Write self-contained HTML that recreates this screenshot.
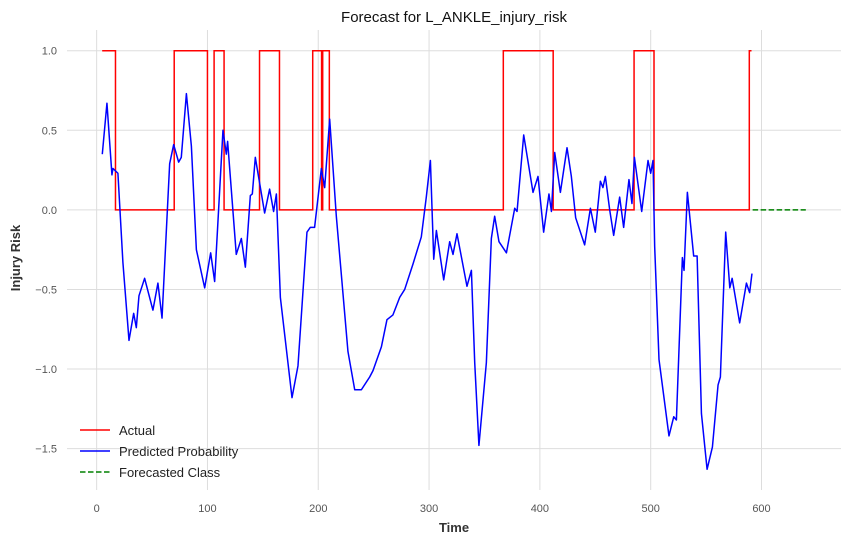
<!DOCTYPE html>
<html><head><meta charset="utf-8">
<style>
body{margin:0;background:#fff;}
svg{display:block;font-family:"Liberation Sans","DejaVu Sans",sans-serif;}
</style></head>
<body>
<svg id="chart" width="852" height="544" viewBox="0 0 852 544" xmlns="http://www.w3.org/2000/svg">
<text x="454" y="22" text-anchor="middle" font-size="15" fill="#111">Forecast for L_ANKLE_injury_risk</text>
<g id="grid"></g>
<g id="xticks"></g>
<g id="yticks"></g>
<g id="series"></g>
<text x="454" y="532" text-anchor="middle" font-size="13" font-weight="bold" fill="#333">Time</text>
<text transform="translate(20,258) rotate(-90)" text-anchor="middle" font-size="13" font-weight="bold" fill="#333">Injury Risk</text>
<g>
  <g><line x1="80" y1="430" x2="110" y2="430" stroke="#ff0000" stroke-width="1.5"/><text x="119" y="435" font-size="13" fill="#222">Actual</text></g>
  <g><line x1="80" y1="451" x2="110" y2="451" stroke="#0000ff" stroke-width="1.5"/><text x="119" y="456" font-size="13" fill="#222">Predicted Probability</text></g>
  <g><line x1="80" y1="472" x2="110" y2="472" stroke="#008000" stroke-width="1.5" stroke-dasharray="5.5,2.5"/><text x="119" y="477" font-size="13" fill="#222">Forecasted Class</text></g>
</g>
</svg>
<script>
const xTicks=[0,100,200,300,400,500,600];
const yTicks=[1.0,0.5,0.0,-0.5,-1.0,-1.5];
const yTickLabels=["1.0","0.5","0.0","\u22120.5","\u22121.0","\u22121.5"];
const actualTimes=[5,17,70,100,106,115,147,165,195,203,204,205,210,367,412,485,503,589,590,591];
const actualValues=[1,0,1,0,1,0,1,0,1,0,1,1,0,1,0,1,0,1,1,1];
const predTimes=[5.1,9.3,13.8,14.7,19.2,23.7,29.2,33.4,35.8,38.2,43.3,50.8,55.3,59,65.9,69.5,74,76.4,81,85.5,90,97.5,102.9,106.5,114,117,118.2,126,130.6,134.2,138.7,140.5,143.2,151.6,156.1,159.7,162.2,165.8,176.3,181.7,189.8,192.8,196.7,202.8,205.8,210.3,216.3,226.8,232.9,238.9,246.4,249.4,257,262,267.4,273.5,278,285.5,293,297.5,301.2,304.2,306.6,313.2,318.6,321.6,325.2,334.2,338.2,341.2,345,351.7,356.2,359.2,363.1,369.8,377.3,379.4,385.4,393.8,398.3,403.4,408.2,410.4,413.4,418.5,424.5,428.4,432.3,440.4,445.6,450,454.6,456.9,459.1,463,466.6,472,475.6,480.4,483.1,485.3,491.9,497.6,500,502.1,503.6,507.5,516.5,520.8,523.2,528.6,530.1,533.1,538.8,541.9,545.8,550.9,555.7,560.8,562.9,567.7,571.4,573.5,580.3,586.4,589.3,591.4];
const predValues=[0.35,0.67,0.22,0.26,0.23,-0.33,-0.82,-0.65,-0.74,-0.54,-0.43,-0.63,-0.46,-0.68,0.29,0.41,0.30,0.33,0.73,0.40,-0.25,-0.49,-0.27,-0.45,0.50,0.35,0.43,-0.28,-0.18,-0.36,0.09,0.10,0.33,-0.02,0.13,-0.01,0.10,-0.55,-1.18,-0.98,-0.14,-0.11,-0.11,0.26,0.14,0.57,-0.04,-0.89,-1.13,-1.13,-1.05,-1.01,-0.86,-0.69,-0.66,-0.55,-0.50,-0.34,-0.17,0.08,0.31,-0.31,-0.13,-0.44,-0.20,-0.28,-0.15,-0.48,-0.38,-0.96,-1.48,-0.96,-0.18,-0.04,-0.20,-0.27,0.01,-0.01,0.47,0.11,0.21,-0.14,0.10,-0.01,0.36,0.11,0.39,0.21,-0.05,-0.22,0.01,-0.14,0.18,0.14,0.21,0.00,-0.16,0.08,-0.11,0.19,0.04,0.33,-0.01,0.31,0.23,0.31,-0.23,-0.94,-1.42,-1.30,-1.32,-0.30,-0.38,0.11,-0.29,-0.29,-1.28,-1.63,-1.49,-1.10,-1.05,-0.14,-0.49,-0.43,-0.71,-0.46,-0.52,-0.40];
const forecastTimes=[592,640];
const forecastValues=[0,0];

const NS="http://www.w3.org/2000/svg";
const L=67,R=841,T=30,B=490;
const X0=-26.75,X1=671.75,Y0=-1.76,Y1=1.13;
function xs(t){return L+(t-X0)/(X1-X0)*(R-L);}
function ys(v){return B-(v-Y0)/(Y1-Y0)*(B-T);}
function mk(tag,attrs,parent){const e=document.createElementNS(NS,tag);for(const k in attrs)e.setAttribute(k,attrs[k]);parent.appendChild(e);return e;}
const grid=document.getElementById('grid'),xg=document.getElementById('xticks'),yg=document.getElementById('yticks'),sg=document.getElementById('series');
xTicks.forEach(t=>{
  const ln=mk('line',{x1:xs(t),x2:xs(t),y1:T,y2:B,stroke:'#dddddd','stroke-width':1},grid);
  
  
  const tx=mk('text',{x:xs(t),y:B+22,'text-anchor':'middle','font-size':11,fill:'#555'},xg);
  tx.textContent=t;
  
  
});
yTicks.forEach((v,i)=>{
  const ln=mk('line',{x1:L,x2:R,y1:ys(v),y2:ys(v),stroke:'#dddddd','stroke-width':1},grid);
  
  
  const tx=mk('text',{x:L-10,y:ys(v)+4,'text-anchor':'end','font-size':11,fill:'#555'},yg);
  tx.textContent=yTickLabels[i];
  
  
});
let d='';
for(let i=0;i<actualTimes.length;i++){
  const x=xs(actualTimes[i]),y=ys(actualValues[i]);
  if(i===0)d+='M'+x+','+y;
  else{d+='L'+x+','+ys(actualValues[i-1])+'L'+x+','+y;}
}
const a=mk('path',{d:d,fill:'none',stroke:'#ff0000','stroke-width':1.5},sg);


let d2='';
predTimes.forEach((t,i)=>{d2+=(i?'L':'M')+xs(t)+','+ys(predValues[i]);});
const p=mk('path',{d:d2,fill:'none',stroke:'#0000ff','stroke-width':1.5,'stroke-linejoin':'round'},sg);


let d3='';
forecastTimes.forEach((t,i)=>{d3+=(i?'L':'M')+xs(t)+','+ys(forecastValues[i]);});
const f=mk('path',{d:d3,fill:'none',stroke:'#008000','stroke-width':1.5,'stroke-dasharray':'5.5,2.5'},sg);


</script>
</body></html>
